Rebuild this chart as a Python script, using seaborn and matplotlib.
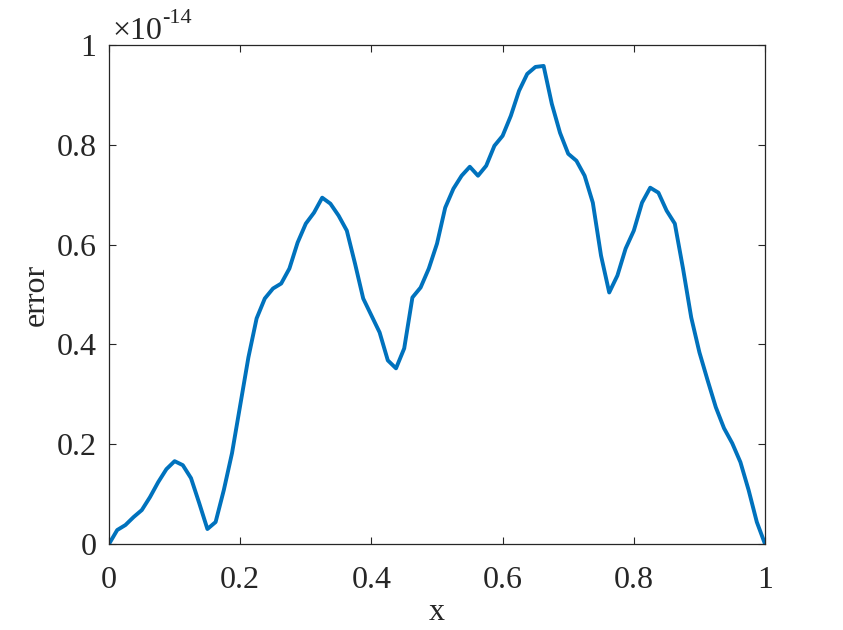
import matplotlib
matplotlib.use("Agg")
import matplotlib.pyplot as plt
import seaborn as sns
import numpy as np

# error values, in units of 1e-14, at x = 0, 0.0125, ..., 1
x = np.linspace(0, 1, 81)
error = [
    0.000, 0.028, 0.038, 0.054, 0.068, 0.094, 0.124, 0.150, 0.166, 0.158,
    0.132, 0.082, 0.030, 0.044, 0.108, 0.182, 0.278, 0.374, 0.452, 0.492,
    0.512, 0.522, 0.552, 0.604, 0.642, 0.664, 0.694, 0.682, 0.658, 0.628,
    0.562, 0.492, 0.458, 0.424, 0.368, 0.352, 0.392, 0.494, 0.514, 0.552,
    0.602, 0.674, 0.712, 0.738, 0.756, 0.738, 0.758, 0.798, 0.818, 0.858,
    0.908, 0.942, 0.956, 0.958, 0.882, 0.824, 0.782, 0.768, 0.738, 0.684,
    0.578, 0.504, 0.538, 0.592, 0.628, 0.684, 0.714, 0.704, 0.668, 0.642,
    0.552, 0.454, 0.384, 0.328, 0.274, 0.232, 0.202, 0.164, 0.108, 0.044,
    0.000,
]
xticks = [0, 0.2, 0.4, 0.6, 0.8, 1]
yticks = [0, 0.2, 0.4, 0.6, 0.8, 1]

sns.set_style("ticks")
plt.rcParams['font.family'] = ['Liberation Serif', 'DejaVu Serif']

fig = plt.figure(figsize=(8.43, 6.3), dpi=100)
ax = fig.add_axes([0.1293, 0.1365, 0.7782, 0.7921])

sns.lineplot(x=x, y=error, color="#0072BD", linewidth=2.8, ax=ax)

ax.set_xlim(0, 1)
ax.set_ylim(0, 1)
ax.set_xticks(xticks)
ax.set_yticks(yticks)
ax.set_xticklabels([f"{t:g}" for t in xticks])
ax.set_yticklabels([f"{t:g}" for t in yticks])
ax.tick_params(direction="in", length=5, width=0.8, labelsize=23,
               top=True, right=True, colors="#262626")
ax.tick_params(axis="x", pad=16)
ax.tick_params(axis="y", pad=9)
for s in ax.spines.values():
    s.set_visible(True)
    s.set_linewidth(0.9)
    s.set_color("#262626")

ax.set_xlabel("x", fontsize=23, color="#262626", labelpad=2)
ax.set_ylabel("error", fontsize=23, color="#262626", labelpad=4)

# exponent label, drawn like MATLAB's "×10^-14"
base = ax.text(0.005, 0.998, "×10", transform=ax.transAxes,
               fontsize=23, color="#262626", ha="left", va="bottom")
ax.annotate("-14", xy=(1.0, 0.62), xycoords=base, fontsize=16,
            color="#262626", ha="left", va="bottom")

fig.savefig("out.png", dpi=100)
